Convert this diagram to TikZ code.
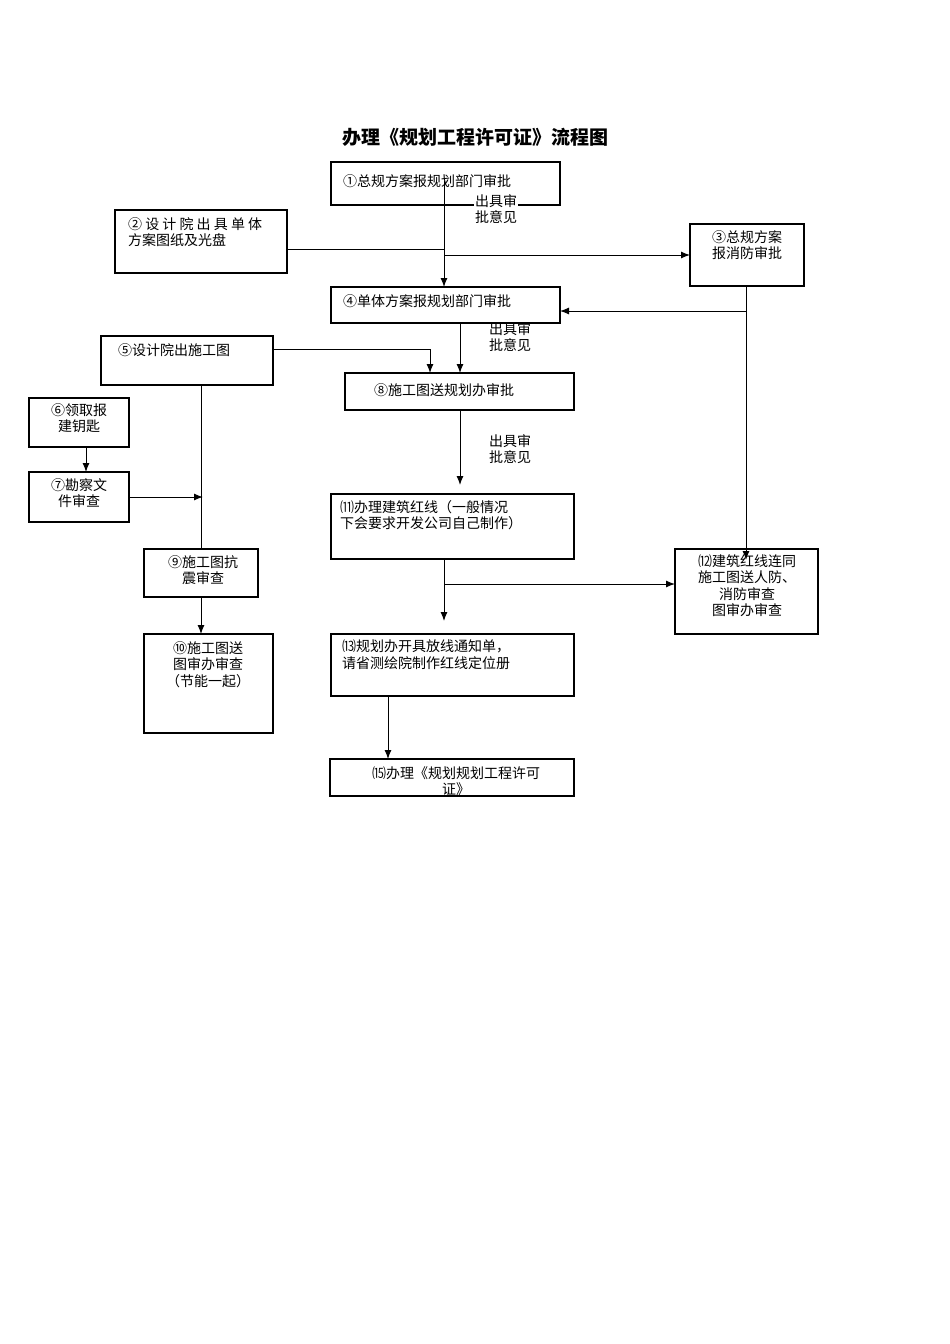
\documentclass[tikz,border=0pt]{standalone}
\usepackage{fontspec}
\setmainfont{Noto Sans CJK SC}
\usetikzlibrary{calc,arrows.meta}
\newcommand{\bx}[5]{\node[box,minimum width={(#4-#2)*1pt},minimum height={(#5-#3)*1pt}] (#1) at ({(#2+#4)/2},{(#3+#5)/2}) {};}
\begin{document}
\begin{tikzpicture}[x=1pt,y=-1pt,
  box/.style={draw,line width=1.1pt,inner sep=0pt,outer sep=0pt},
  txt/.style={font=\fontsize{14}{16.5}\selectfont,inner sep=0pt,align=left},
  ln/.style={line width=1pt},
  ar/.style={line width=1pt,-{Latex[length=9pt,width=7pt]}}]
\useasboundingbox (0,0) rectangle (950,1344);
\node[font=\fontsize{19}{22}\bfseries\selectfont] (title) at (475,137) {办理《规划工程许可证》流程图};
\bx{b1}{331}{162}{560}{205}
\bx{b2}{115}{210}{287}{273}
\bx{b3}{690}{224}{804}{286}
\bx{b4}{331}{287}{560}{323}
\bx{b5}{101}{336}{273}{385}
\bx{b8}{345}{373}{574}{410}
\bx{b6}{29}{398}{129}{447}
\bx{b7}{29}{472}{129}{522}
\bx{b11}{331}{494}{574}{559}
\bx{b12}{675}{549}{818}{634}
\bx{b9}{144}{549}{258}{597}
\bx{b10}{144}{634}{273}{733}
\bx{b13}{331}{634}{574}{696}
\bx{b15}{330}{759}{574}{796}
% texts
\node[txt,anchor=west] (t1) at (343,181) {①总规方案报规划部门审批};
\node[txt,fill=white,align=left,inner sep=1pt] (o1) at (496,209) {出具审\\批意见};
\node[txt,anchor=north west] (t2) at (128,217) {② 设 计 院 出 具 单 体\\方案图纸及光盘};
\node[txt,anchor=north,align=center] (t3) at (747,230) {③总规方案\\报消防审批};
\node[txt,anchor=west] (t4) at (343,301) {④单体方案报规划部门审批};
\node[txt,align=left] (o4) at (510,337) {出具审\\批意见};
\node[txt,anchor=west] (t5) at (118,350) {⑤设计院出施工图};
\node[txt,anchor=west] (t8) at (374,390) {⑧施工图送规划办审批};
\node[txt,align=left] (o8) at (510,449) {出具审\\批意见};
\node[txt,anchor=north,align=center] (t6) at (79,403) {⑥领取报\\建钥匙};
\node[txt,anchor=north,align=center] (t7) at (79,478) {⑦勘察文\\件审查};
\node[txt,anchor=north west] (t11) at (340,500) {⑾办理建筑红线（一般情况\\下会要求开发公司自己制作）};
\node[txt,anchor=north,align=center] (t12) at (747,554) {⑿建筑红线连同\\施工图送人防、\\消防审查\\图审办审查};
\node[txt,anchor=north,align=center] (t9) at (203,555) {⑨施工图抗\\震审查};
\node[txt,anchor=north,align=center] (t10) at (208,641) {⑩施工图送\\图审办审查\\（节能一起）};
\node[txt,anchor=north west] (t13) at (342,640) {⒀规划办开具放线通知单，\\请省测绘院制作红线定位册};
\node[txt,anchor=north,align=center] (t15) at (456,766) {⒂办理《规划规划工程许可\\证》};
% connectors
\coordinate (s1) at (444,181);
\draw[ar] (s1) -- (b4.north -| s1);
\draw[ln] (b2.east |- 0,249) -- (444,249);
\draw[ar] (444,255) -- (b3.west |- 0,255);
\coordinate (s3) at (746,286);
\draw[ln] (s3) -- (746,311);
\draw[ar] (746,311) -- (b4.east |- 0,311);
\draw[ar] (s3) -- (746,560);
\draw[ar] (460,323) -- (b8.north -| 460,0);
\draw[ar] (b5.east |- 0,349) -- (430,349) -- (b8.north -| 430,0);
\draw[ln] (201,385) -- (b9.north -| 201,0);
\draw[ar] (460,410) -- (460,485);
\draw[ar] (86,447) -- (b7.north -| 86,0);
\draw[ar] (b7.east |- 0,497) -- (203,497);
\draw[ar] (444,559) -- (444,621);
\draw[ar] (444,584) -- (b12.west |- 0,584);
\draw[ar] (201,597) -- (b10.north -| 201,0);
\draw[ar] (388,696) -- (b15.north -| 388,0);
\end{tikzpicture}
\end{document}
